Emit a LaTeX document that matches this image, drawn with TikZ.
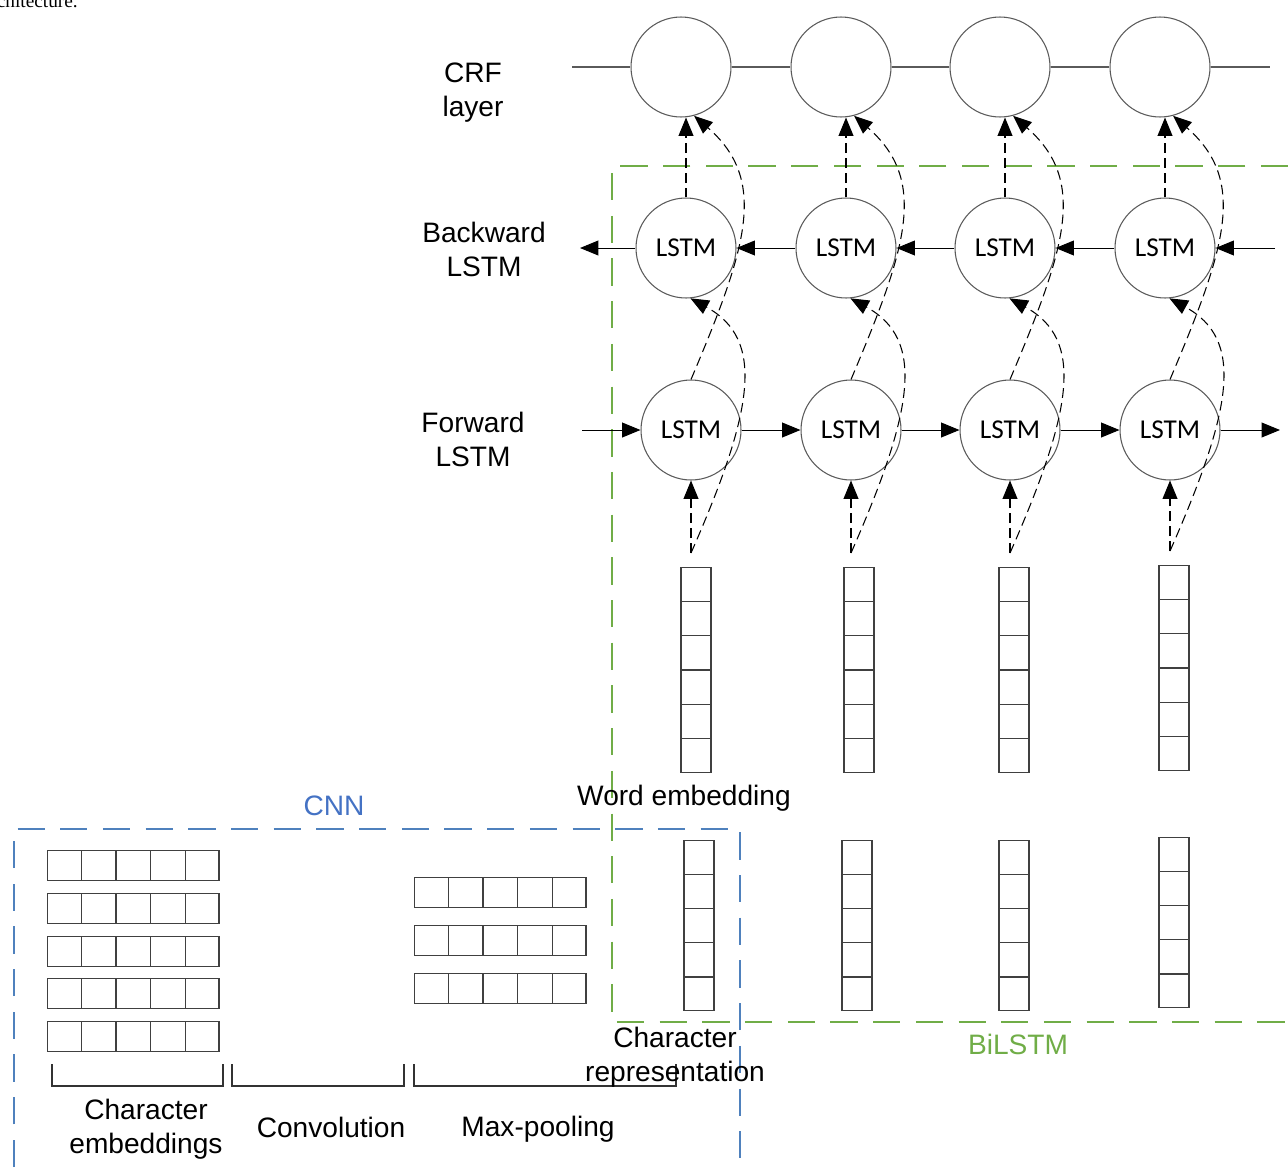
\documentclass[tikz,border=0pt]{standalone}
\usepackage{fontspec}
\setmainfont{Liberation Sans}
\newfontfamily\lstmfont{Carlito}
\newfontfamily\capfont{Liberation Serif}
\usetikzlibrary{arrows.meta,calc,positioning}
\definecolor{cnnblue}{RGB}{68,114,196}
\definecolor{cnnline}{RGB}{79,129,189}
\definecolor{bigreen}{RGB}{112,173,71}
\definecolor{ringgray}{RGB}{90,90,90}
\tikzset{
  unit/.style={circle,draw=ringgray,line width=0.6pt,minimum size=2cm,inner sep=0pt},
  lstm/.style={unit,font=\lstmfont\fontsize{15.5}{18}\selectfont},
  lbl/.style={align=center,font=\fontsize{16}{19.3}\selectfont},
  tri/.style={-{Triangle[length=10.5pt,width=8.5pt]}},
  flow/.style={tri,line width=0.55pt},
  skip/.style={tri,line width=0.6pt,dash pattern=on 5.5pt off 3pt},
  rail/.style={draw=ringgray,line width=0.6pt},
  cellline/.style={draw=black!75,line width=0.7pt},
  col/.style={cellline,minimum width=0.6cm,inner sep=0pt,anchor=north},
  row/.style={cellline,minimum height=0.6cm,minimum width=3.43cm,inner sep=0pt,anchor=north west},
  brace/.style={draw=black!80,line width=0.9pt},
  region/.style={line width=0.9pt,dash pattern=on 15.5pt off 8.8pt}
}
\begin{document}
\begin{tikzpicture}[x=0.02cm,y=-0.02cm]
\useasboundingbox (0,0) rectangle (1288,1167);
\node[anchor=base east,font=\capfont\fontsize{11}{13}\selectfont] (cap) at (84,7) {architecture.};
\draw[region,draw=bigreen] (1288,166) -- (612,166) -- (612,1022) -- (1288,1022);
\draw[region,draw=cnnline] (14,1167) -- (14,829) -- (740,829) -- (740,1167);
\foreach \k/\x/\wx/\wy/\cx/\cy in {1/681/696/567/699/840,2/841/859/567/857/840,3/1000/1014/567/1014/840,4/1160/1174/565/1174/837}{
  \node[unit] (crf\k) at (\x,67) {};
  \node[lstm] (bw\k) at (\x+5,248) {LSTM};
  \node[lstm] (fw\k) at (\x+10,430) {LSTM};
  \node[col,minimum height=4.1cm] (we\k) at (\wx,\wy) {};
  \node[col,minimum height=3.4cm] (cr\k) at (\cx,\cy) {};
  \foreach \i in {1,...,5}
    \draw[cellline] ($(we\k.north west)!\i/6!(we\k.south west)$) -- ($(we\k.north east)!\i/6!(we\k.south east)$);
  \foreach \i in {1,...,4}
    \draw[cellline] ($(cr\k.north west)!\i/5!(cr\k.south west)$) -- ($(cr\k.north east)!\i/5!(cr\k.south east)$);
  \coordinate (s\k) at ($(fw\k.south |- we\k.north)+(0,-14)$);
  \draw[skip] (s\k) -- (s\k |- fw\k.south);
  \draw[skip] (s\k) .. controls +(63,-143) and +(75,41) .. (bw\k.-85);
  \draw[skip] (bw\k.north) -- (bw\k.north |- crf\k.south);
  \draw[skip] (fw\k.north) .. controls +(55,-130) and +(75,65) .. (crf\k.-75);
}
\coordinate (crfL) at (572,67);
\coordinate (crfR) at (1270,67);
\coordinate (bwL) at (580,248);
\coordinate (bwR) at (1275,248);
\coordinate (fwL) at (582,430);
\coordinate (fwR) at (1280,430);
\draw[rail] (crfL) -- (crf1) (crf4) -- (crfR);
\draw[flow] (bw1) -- (bwL);
\draw[flow] (bwR) -- (bw4);
\draw[flow] (fwL) -- (fw1);
\draw[flow] (fw4) -- (fwR);
\foreach \a/\b in {1/2,2/3,3/4}{
  \draw[rail] (crf\a) -- (crf\b);
  \draw[flow] (bw\b) -- (bw\a);
  \draw[flow] (fw\a) -- (fw\b);
}
\foreach \y [count=\r] in {850,893,936,978,1021}{
  \node[row] (ce\r) at (47,\y) {};
  \foreach \i in {1,...,4}
    \draw[cellline] ($(ce\r.north west)!\i/5!(ce\r.north east)$) -- ($(ce\r.south west)!\i/5!(ce\r.south east)$);
}
\foreach \y [count=\r] in {877,925,973}{
  \node[row] (mp\r) at (414,\y) {};
  \foreach \i in {1,...,4}
    \draw[cellline] ($(mp\r.north west)!\i/5!(mp\r.north east)$) -- ($(mp\r.south west)!\i/5!(mp\r.south east)$);
}
\draw[brace] (52,1064) -- (52,1086) -- (223,1086) -- (223,1064);
\draw[brace] (232,1064) -- (232,1086) -- (404,1086) -- (404,1064);
\draw[brace] (414,1064) -- (414,1086) -- (676,1086) -- (676,1064);
\node[lbl] (crflbl) at (473,93) {CRF\\layer};
\node[lbl] (bwlbl) at (484,249) {Backward\\LSTM};
\node[lbl] (fwlbl) at (473,439) {Forward\\LSTM};
\node[lbl] (welbl) at (684,798) {Word embedding};
\node[lbl,text=cnnblue] (cnnlbl) at (334,806) {CNN};
\node[lbl,text=bigreen] (bilbl) at (1018,1044) {BiLSTM};
\node[lbl] (crlbl) at (675,1057) {Character\\representation};
\node[lbl] (celbl) at (146,1129) {Character\\embeddings};
\node[lbl] (cvlbl) at (331,1127) {Convolution};
\node[lbl] (mplbl) at (538,1129) {Max-pooling};
\end{tikzpicture}
\end{document}
